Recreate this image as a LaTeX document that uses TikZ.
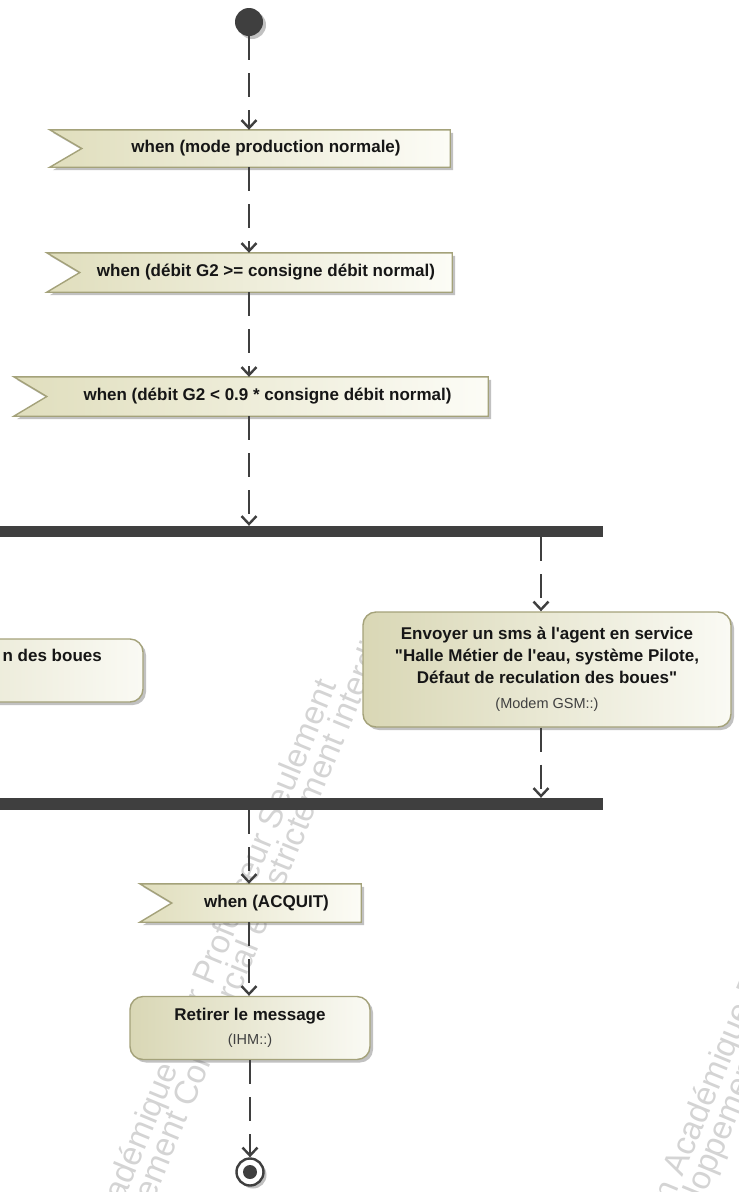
\documentclass[tikz,border=0pt]{standalone}
\usepackage{fontspec}
\setmainfont{Liberation Sans}
\usetikzlibrary{arrows.meta,shadows,calc}
\pgfdeclarelayer{wm}
\pgfdeclarelayer{back}
\pgfsetlayers{wm,back,main}

\definecolor{umlborder}{HTML}{A4A27A}
\definecolor{evleft}{HTML}{E0DEBD}
\definecolor{evright}{HTML}{FCFCF6}
\definecolor{acleft}{HTML}{D9D7B5}
\definecolor{acright}{HTML}{FAFAF4}
\definecolor{ink}{HTML}{3F3F3F}
\definecolor{txt}{HTML}{161616}
\definecolor{wmgray}{HTML}{D4D4D4}

\tikzset{
  flow/.style={draw=ink, line width=2.6pt, dash pattern=on 24pt off 13pt,
    -{Straight Barb[length=8pt,width=15pt,line width=2.4pt]}},
  shadowed/.style={drop shadow={shadow xshift=3pt, shadow yshift=-3pt,
    opacity=0.35, fill=black!70}},
  evnode/.style={inner sep=0pt, text=txt, font=\fontsize{17}{20}\selectfont\bfseries},
  evshape/.style={draw=umlborder, line width=1.4pt, left color=evleft,
    right color=evright, shadowed},
  action/.style={draw=umlborder, line width=1.4pt, rounded corners=13pt,
    left color=acleft, right color=acright, shadowed, align=center, text=txt,
    font=\fontsize{17}{22}\selectfont\bfseries, inner sep=0pt},
  bar/.style={fill=ink, inner sep=0pt},
  wmtext/.style={rotate=67.5, anchor=base west, text=wmgray,
    font=\fontsize{33}{33}\selectfont, inner sep=0pt},
}

% accept-event flag: the node is the part right of the notch
\newcommand\acceptshape[2]{%
  \begin{pgfonlayer}{back}
    \path[evshape] ($(#1.north west)+(-#2,0)$) -- (#1.north east)
      -- (#1.south east) -- ($(#1.south west)+(-#2,0)$) -- (#1.west) -- cycle;
  \end{pgfonlayer}}
\newcommand\ownerlabel[1]{{\mdseries\fontsize{14.5}{17}\selectfont\color{black!75}#1}}

\begin{document}
\begin{tikzpicture}[x=1pt,y=-1pt]
\useasboundingbox (0,0) rectangle (739,1192);

% watermark
\begin{pgfonlayer}{wm}
  \foreach \dx/\dy [count=\i] in {0/0, 574/-60}{
    \node[wmtext] (wmA\i) at (63+\dx,1348+\dy) {Version Académique Pour Professeur Seulement};
    \node[wmtext] (wmB\i) at (100+\dx,1331+\dy) {Développement Commercial est strictement interdit};
  }
\end{pgfonlayer}

\coordinate (spine) at (249,0);
\coordinate (rb) at (541,0);

% initial node
\node[circle, fill=ink, inner sep=0pt, minimum size=28pt, shadowed] (init) at (249,22) {};

% accept events
\node[evnode, minimum width=368pt, minimum height=37pt] (ev1) at (266,148.5) {when (mode production normale)};
\acceptshape{ev1}{32}
\node[evnode, minimum width=372pt, minimum height=39pt] (ev2) at (266,272.5) {when (débit G2 >= consigne débit normal)};
\acceptshape{ev2}{33}
\node[evnode, minimum width=441pt, minimum height=39pt] (ev3) at (267.5,396.5) {when (débit G2 < 0.9 * consigne débit normal)};
\acceptshape{ev3}{33}

% fork bar
\node[bar, minimum width=603pt, minimum height=11pt] (fork) at (301.5,531.5) {};

% left action (partly outside the sheet)
\node[action, minimum width=373pt, minimum height=63pt] (leftact) at (-43.5,670.5) {};
\node[evnode, anchor=east] (leftlbl) at (102,655) {n des boues};

% right action
\node[action, minimum width=368pt, minimum height=115pt] (sms) at (547,669.5)
  {Envoyer un sms à l\textquotesingle agent en service\\
   \textquotedbl Halle Métier de l\textquotesingle eau, système Pilote,\\
   Défaut de reculation des boues\textquotedbl\\[3pt]
   \ownerlabel{(Modem GSM::)}};

% join bar
\node[bar, minimum width=603pt, minimum height=12pt] (join) at (301.5,804) {};

% acknowledgement
\node[evnode, minimum width=189pt, minimum height=38pt] (acq) at (266.5,903) {when (ACQUIT)};
\acceptshape{acq}{32}

\node[action, minimum width=240pt, minimum height=63pt] (ret) at (250,1028)
  {Retirer le message\\[2pt]\ownerlabel{(IHM::)}};

% final node
\node[circle, draw=ink, line width=2.4pt, fill=white, inner sep=0pt,
  minimum size=27pt, shadowed] (final) at (250,1172) {};
\node[circle, fill=ink, inner sep=0pt, minimum size=14pt] (finaldot) at (final) {};

% control flows
\draw[flow] (init) -- (spine |- ev1.north);
\draw[flow] (spine |- ev1.south) -- (spine |- ev2.north);
\draw[flow] (spine |- ev2.south) -- (spine |- ev3.north);
\draw[flow] (spine |- ev3.south) -- (spine |- fork.north);
\draw[flow] (rb |- fork.south) -- (rb |- sms.north);
\draw[flow] (rb |- sms.south) -- (rb |- join.north);
\draw[flow] (spine |- join.south) -- (spine |- acq.north);
\draw[flow] (spine |- acq.south) -- (spine |- ret.north);
\draw[flow] (ret.south) -- (final.north);
\end{tikzpicture}
\end{document}
